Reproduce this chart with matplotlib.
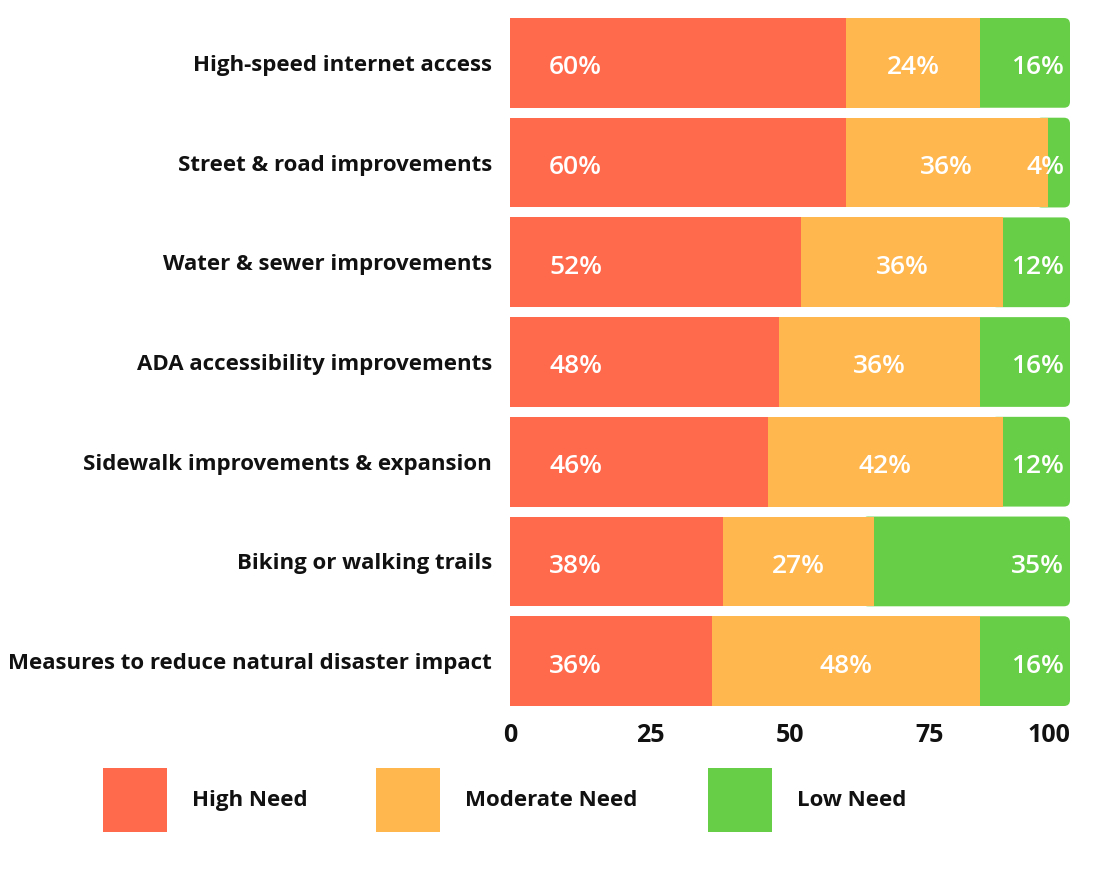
import matplotlib
matplotlib.use("Agg")
from matplotlib import pyplot as plt
from matplotlib.patches import Rectangle, FancyBboxPatch
import numpy as np

categories = [
    "High-speed internet access",
    "Street & road improvements",
    "Water & sewer improvements",
    "ADA accessibility improvements",
    "Sidewalk improvements & expansion",
    "Biking or walking trails",
    "Measures to reduce natural disaster impact",
]
high_need = [60, 60, 52, 48, 46, 38, 36]
moderate_need = [24, 36, 36, 36, 42, 27, 48]
low_need = [16, 4, 12, 16, 12, 35, 16]

series_names = ["High Need", "Moderate Need", "Low Need"]
colors = ["#FF6A4C", "#FFB74E", "#67CF47"]
x_ticks = [0, 25, 50, 75, 100]

plt.rcParams['font.family'] = ['Open Sans', 'DejaVu Sans']

fig = plt.figure(figsize=(11.07, 8.88), dpi=100)
ax = fig.add_axes([510 / 1107, 1 - 706 / 888, 560 / 1107, 688 / 888])

y = np.arange(len(categories))
h = np.array(high_need)
m = np.array(moderate_need)
l = np.array(low_need)
bar_h = 0.9

# low-need segment gets a rounded right end; it starts a bit under the
# moderate segment so its rounded left corners stay hidden
px_x = 560 / 100.0
px_y = 688 / (len(categories) - 0.1)
rad = 6 / px_x
for i in range(len(categories)):
    start = h[i] + m[i] - 2 * rad
    ax.add_patch(FancyBboxPatch((start, y[i] - bar_h / 2), l[i] + 2 * rad, bar_h,
                                boxstyle=f"round,pad=0,rounding_size={rad}",
                                mutation_aspect=px_x / px_y,
                                facecolor=colors[2], linewidth=0, zorder=1))

ax.barh(y, h, height=bar_h, color=colors[0], linewidth=0, zorder=2)
ax.barh(y, m, left=h, height=bar_h, color=colors[1], linewidth=0, zorder=2)

lbl = dict(color="white", fontsize=19, fontweight="semibold", va="center_baseline", zorder=3)
for i in range(len(categories)):
    ax.text(7, y[i] + 0.02, f"{h[i]}%", ha="left", **lbl)
    ax.text(h[i] + m[i] / 2, y[i] + 0.02, f"{m[i]}%", ha="center", **lbl)
    ax.text(99, y[i] + 0.02, f"{l[i]}%", ha="right", **lbl)

ax.set_xlim(0, 100)
ax.set_ylim(len(categories) - 0.55, -0.45)
ax.set_yticks(y)
ax.set_yticklabels(categories, fontsize=16, fontweight="bold", color="#111111")
ax.set_xticks(x_ticks)
ax.set_xticklabels([str(t) for t in x_ticks], fontsize=18, fontweight="bold", color="#111111")
ax.get_xticklabels()[-1].set_horizontalalignment("right")
ax.tick_params(axis="both", length=0)
ax.tick_params(axis="y", pad=13)
ax.tick_params(axis="x", pad=12)
for s in ax.spines.values():
    s.set_visible(False)

# legend drawn as squares with labels under the chart
legend_x = [103, 376, 708]
for name, c, x0 in zip(series_names, colors, legend_x):
    fig.patches.append(Rectangle((x0 / 1107, 1 - 832 / 888), 64 / 1107, 64 / 888,
                                 transform=fig.transFigure, color=c, linewidth=0))
    fig.text((x0 + 89) / 1107, 1 - 800 / 888, name, fontsize=16, fontweight="bold",
             color="#111111", ha="left", va="center")

fig.savefig("out.png", dpi=100)
